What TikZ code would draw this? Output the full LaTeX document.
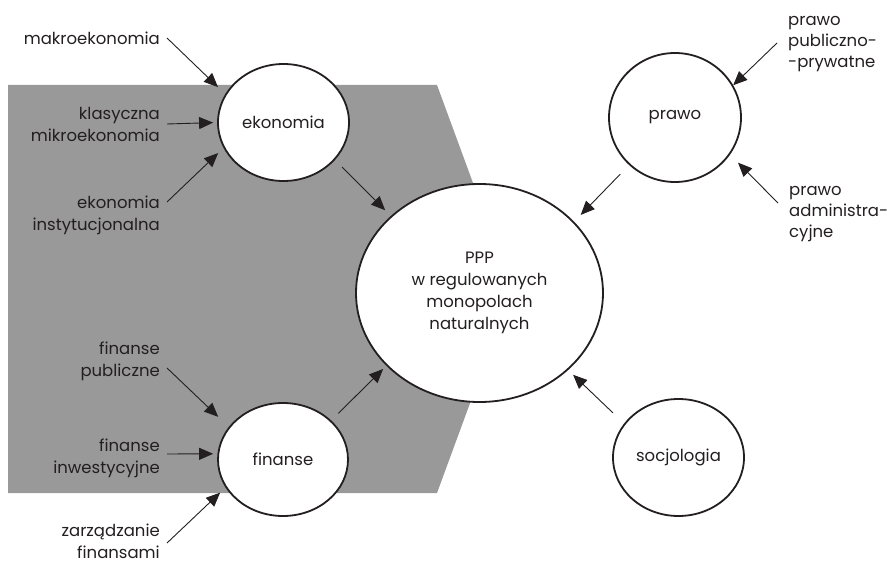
\documentclass[tikz,border=0pt]{standalone}
\usepackage{fontspec}
\setmainfont{Poppins}
\usetikzlibrary{arrows.meta,shapes.geometric}
\definecolor{Ink}{HTML}{231F20}
\definecolor{PanelFill}{RGB}{153,153,153}
\tikzset{
  flow/.style={-{Triangle[length=14pt,width=12pt]}, draw=Ink, line width=0.9pt},
  panel/.style={fill=PanelFill},
  field/.style={ellipse, draw=Ink, fill=white, line width=1.8pt, inner sep=0pt,
    align=center, text=Ink, font=\rmfamily\fontsize{16.5}{22}\selectfont},
  source/.style={anchor=east, align=right, text=Ink, inner xsep=7pt, inner ysep=0pt,
    font=\rmfamily\fontsize{16.5}{22}\selectfont},
  sourceR/.style={anchor=west, align=left, text=Ink, inner xsep=11pt, inner ysep=0pt,
    font=\rmfamily\fontsize{16.5}{21}\selectfont},
}
\begin{document}
\begin{tikzpicture}[x=1pt, y=-1pt]
  \useasboundingbox (0,0) rectangle (887,564);
  % Shaded band behind the economic and financial fields.
  \fill[panel] (8,85) -- (437,85) -- (512,289) -- (437,493) -- (8,493) -- cycle;

  % Fields of study.
  \node[field, minimum width=131pt, minimum height=117pt] (eko) at (283.5,122.5) {ekonomia};
  \node[field, minimum width=130pt, minimum height=113pt] (fin) at (283,459.5) {finanse};
  \node[field, minimum width=132pt, minimum height=129pt] (prawo) at (675,117.5) {prawo};
  \node[field, minimum width=131pt, minimum height=117pt] (socjo) at (678.5,457.5) {socjologia};
  \node[field, minimum width=247pt, minimum height=218pt] (ppp) at (479.5,293)
    {PPP\\w regulowanych\\monopolach\\naturalnych};

  % Sub-disciplines feeding each field.
  \node[source] (makro) at (167,38) {makroekonomia};
  \node[source] (klas) at (167,124) {klasyczna\\mikroekonomia};
  \node[source] (inst) at (167,215.5) {ekonomia\\instytucjonalna};
  \node[source] (publ) at (167,361) {finanse\\publiczne};
  \node[source] (inwest) at (167,458) {finanse\\inwestycyjne};
  \node[source] (zarz) at (167,541.5) {zarządzanie\\finansami};
  \node[sourceR] (pubPriv) at (777,44) {prawo\\publiczno-\\-prywatne};
  \node[sourceR] (adm) at (778,214) {prawo\\administra-\\cyjne};

  % Arrows into the fields and into the central topic.
  \draw[flow, shorten >=10pt] (makro.east) -- (eko.154);
  \draw[flow, shorten >=4pt] (klas.east) -- (eko.180);
  \draw[flow, shorten >=7.4pt] ([yshift=13.5pt]inst.east) -- (eko.203);
  \draw[flow, shorten >=14.6pt] ([yshift=-7pt]publ.east) -- (fin.149);
  \draw[flow, shorten >=4.3pt] ([yshift=4pt]inwest.east) -- (fin.175);
  \draw[flow, shorten >=7.4pt] ([yshift=-1.5pt]zarz.east) -- (fin.206);
  \draw[flow] ([yshift=1pt]pubPriv.west) -- (prawo.29);
  \draw[flow, shorten >=11.3pt] ([yshift=11pt]adm.west) -- (prawo.326);
  \draw[flow, shorten <=10pt, shorten >=8pt] (eko.324) -- (ppp.139);
  \draw[flow, shorten <=10pt, shorten >=4.5pt] (fin.39) -- (ppp.218);
  \draw[flow, shorten <=12.6pt, shorten >=9.4pt] (prawo.226) -- (ppp.37);
  \draw[flow, shorten <=15.3pt, shorten >=6.8pt] (socjo.148) -- (ppp.319);
\end{tikzpicture}
\end{document}
